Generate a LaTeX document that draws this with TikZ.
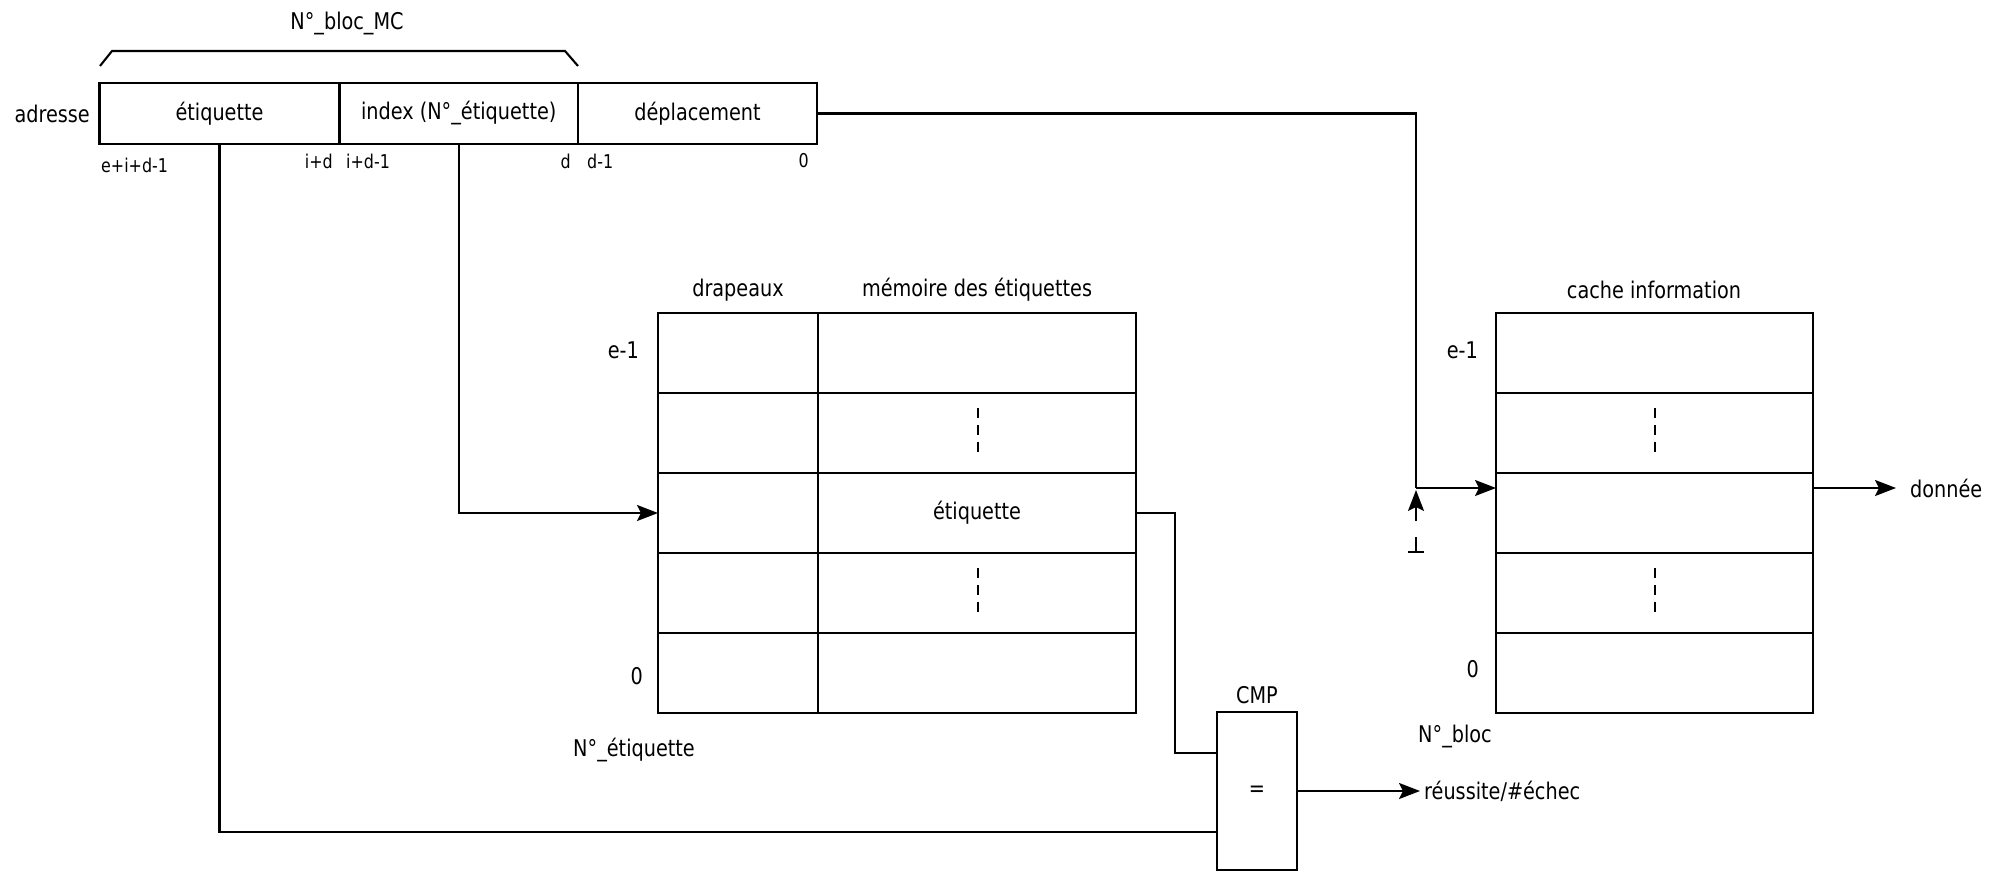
\documentclass[tikz,border=0pt]{standalone}
\usepackage{fontspec}
\setmainfont{DejaVu Sans Condensed}[FakeStretch=0.93]
\usetikzlibrary{arrows.meta}
\begin{document}
\begin{tikzpicture}[x=1pt,y=-1pt,
  cell/.style={draw, line width=2.4pt, inner sep=0pt, outer sep=0pt, rectangle, font=\fontsize{23}{27}\selectfont},
  wire/.style={line width=2.1pt},
  arr/.style={wire, -{Stealth[length=21pt,width=16pt,inset=4pt]}},
  lbl/.style={font=\fontsize{23}{27}\selectfont, inner sep=0pt},
  sml/.style={font=\fontsize{19}{23}\selectfont, inner sep=0pt},
  dotsv/.style={line width=1.4pt, dash pattern=on 10pt off 7pt}
]
\useasboundingbox (0,0) rectangle (2001,872);

% address register
\node[cell, minimum width=240, minimum height=61] (etq) at (219.5,113.5) {étiquette};
\node[cell, minimum width=238.5, minimum height=61] (idx) at (458.75,113.5) {index (N°\_étiquette)};
\node[cell, minimum width=239, minimum height=61] (dep) at (697.5,113.5) {déplacement};
\node[lbl, anchor=east] (adr) at (90,114) {adresse};
\node[lbl] (nbmc) at (347,23) {N°\_bloc\_MC};
\draw[wire] (100,66) -- (112,51) -- (565,51) -- (578,66);

\node[sml, anchor=west] (b1) at (101,165) {e+i+d-1};
\node[sml, anchor=east] (b2) at (333,161) {i+d};
\node[sml, anchor=west] (b3) at (346,161) {i+d-1};
\node[sml, anchor=east] (b4) at (571,161) {d};
\node[sml, anchor=west] (b5) at (587,161) {d-1};
\node[sml, anchor=east] (b6) at (809,161) {0};

% tag memory
\node[cell, minimum width=160, minimum height=80] (f1) at (738,353) {};
\node[cell, minimum width=160, minimum height=80] (f2) at (738,433) {};
\node[cell, minimum width=160, minimum height=80] (f3) at (738,513) {};
\node[cell, minimum width=160, minimum height=80] (f4) at (738,593) {};
\node[cell, minimum width=160, minimum height=80] (f5) at (738,673) {};
\node[cell, minimum width=318, minimum height=80] (t1) at (977,353) {};
\node[cell, minimum width=318, minimum height=80] (t2) at (977,433) {};
\node[cell, minimum width=318, minimum height=80] (t3) at (977,513) {étiquette};
\node[cell, minimum width=318, minimum height=80] (t4) at (977,593) {};
\node[cell, minimum width=318, minimum height=80] (t5) at (977,673) {};
\draw[dotsv] (978,408) -- (978,458);
\draw[dotsv] (978,568) -- (978,618);
\node[lbl] (hdr1) at (738,290) {drapeaux};
\node[lbl] (hdr2) at (977,290) {mémoire des étiquettes};
\node[lbl, anchor=east] (te1) at (639,350) {e-1};
\node[lbl, anchor=east] (te0) at (643,676) {0};
\node[lbl] (netq) at (634,750) {N°\_étiquette};

% cache information
\node[cell, minimum width=317, minimum height=80] (c1) at (1654.5,353) {};
\node[cell, minimum width=317, minimum height=80] (c2) at (1654.5,433) {};
\node[cell, minimum width=317, minimum height=80] (c3) at (1654.5,513) {};
\node[cell, minimum width=317, minimum height=80] (c4) at (1654.5,593) {};
\node[cell, minimum width=317, minimum height=80] (c5) at (1654.5,673) {};
\draw[dotsv] (1655,408) -- (1655,458);
\draw[dotsv] (1655,568) -- (1655,618);
\node[lbl] (hdr3) at (1654,290) {cache information};
\node[lbl, anchor=east] (ce1) at (1478,350) {e-1};
\node[lbl, anchor=east] (ce0) at (1479,669) {0};
\node[lbl] (nbloc) at (1455,736) {N°\_bloc};

% comparator
\node[cell, line width=2.1pt, minimum width=80, minimum height=158] (cmp) at (1257,791) {=};
\node[lbl] (cmpl) at (1257,695) {CMP};
\node[lbl, anchor=west] (res) at (1424,791) {réussite/\#échec};
\node[lbl, anchor=west] (don) at (1910,488) {donnée};

\coordinate (cin1) at (1217,753);
\coordinate (cin2) at (1217,832);
\coordinate (jn) at (1416,488);
\coordinate (gnd) at (1416,552);

% connectors
\draw[arr] (idx.south) |- (f3.west);
\draw[wire] (etq.south) |- (cin2);
\draw[wire] (t3.east) -- ++(39,0) |- (cin1);
\draw[arr] (cmp.east) -- ([xshift=-4pt]res.west);
\draw[wire] (dep.east) -| (jn);
\draw[arr] (jn) -- (jn -| c3.west);
\draw[arr] (jn -| c3.east) -- ([xshift=-14pt]don.west);
\draw[arr] (1416,521) -- (1416,490);
\draw[wire] (gnd) -- ++(0,-15);
\draw[wire] ([xshift=-8pt]gnd) -- ([xshift=8pt]gnd);
\end{tikzpicture}
\end{document}
